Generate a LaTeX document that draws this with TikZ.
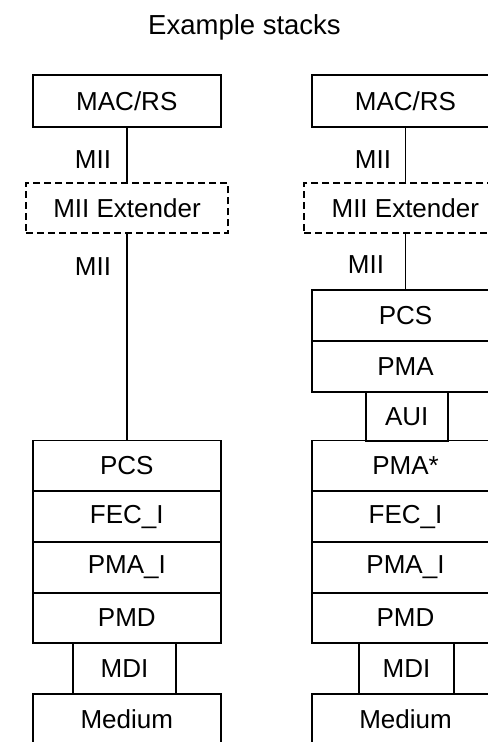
\documentclass[tikz,border=0pt]{standalone}
\usepackage{fontspec}
\setmainfont{Liberation Sans}
\begin{document}
\begin{tikzpicture}[x=1bp,y=-1bp,
  layer/.style={draw, line width=1.9bp, minimum width=187.7bp, minimum height=50.7bp, inner sep=0pt, font=\fontsize{26bp}{30bp}\selectfont},
  ext/.style={layer, minimum width=202bp, minimum height=50bp, dash pattern=on 7bp off 4bp},
  lbl/.style={inner sep=0pt, font=\fontsize{26bp}{30bp}\selectfont},
  conn/.style={line width=1.9bp}]
\useasboundingbox (0,0) rectangle (488,742);
\clip (0,0) rectangle (488,742);
\node[lbl, anchor=base, font=\fontsize{27.5bp}{32bp}\selectfont] (title) at (244.5,35) {Example stacks};
% left stack
\node[layer, minimum height=51.7bp] (lmac) at (126.8,100.8) {MAC/RS};
\node[ext] (lext) at (127,208.3) {MII Extender};
\node[layer] (lpcs) at (126.8,465.85) {PCS};
\node[layer] (lfec) at (126.8,516.65) {FEC\_I};
\node[layer] (lpmai) at (126.8,567.3) {PMA\_I};
\node[layer] (lpmd) at (126.8,617.8) {PMD};
\node[layer, minimum width=102.4bp] (lmdi) at (124.5,668.65) {MDI};
\node[layer, minimum height=51bp] (lmed) at (126.8,719.5) {Medium};
\node[lbl] (lmii1) at (93,160) {MII};
\node[lbl] (lmii2) at (93,267) {MII};
\draw[conn] (lmac.south) -- (lmac.south |- lext.north);
\draw[conn] (lmac.south |- lext.south) -- (lmac.south |- lpcs.north);
% right stack
\node[layer, minimum height=51.7bp] (rmac) at (405.5,100.8) {MAC/RS};
\node[ext] (rext) at (405.3,208.3) {MII Extender};
\node[layer] (rpcs) at (405.5,315.35) {PCS};
\node[layer] (rpma) at (405.5,366.2) {PMA};
\node[layer, minimum width=82bp, minimum height=49bp] (raui) at (406.7,416.2) {AUI};
\node[layer] (rpmas) at (405.5,465.85) {PMA*};
\node[layer] (rfec) at (405.5,516.65) {FEC\_I};
\node[layer] (rpmai) at (405.5,567.3) {PMA\_I};
\node[layer] (rpmd) at (405.5,617.8) {PMD};
\node[layer, minimum width=95bp] (rmdi) at (406.5,668.65) {MDI};
\node[layer, minimum height=51bp] (rmed) at (405.5,719.5) {Medium};
\node[lbl] (rmii1) at (373,160) {MII};
\node[lbl] (rmii2) at (366,265) {MII};
\draw[conn] (rmac.south) -- (rmac.south |- rext.north);
\draw[conn] (rmac.south |- rext.south) -- (rmac.south |- rpcs.north);
\end{tikzpicture}
\end{document}
